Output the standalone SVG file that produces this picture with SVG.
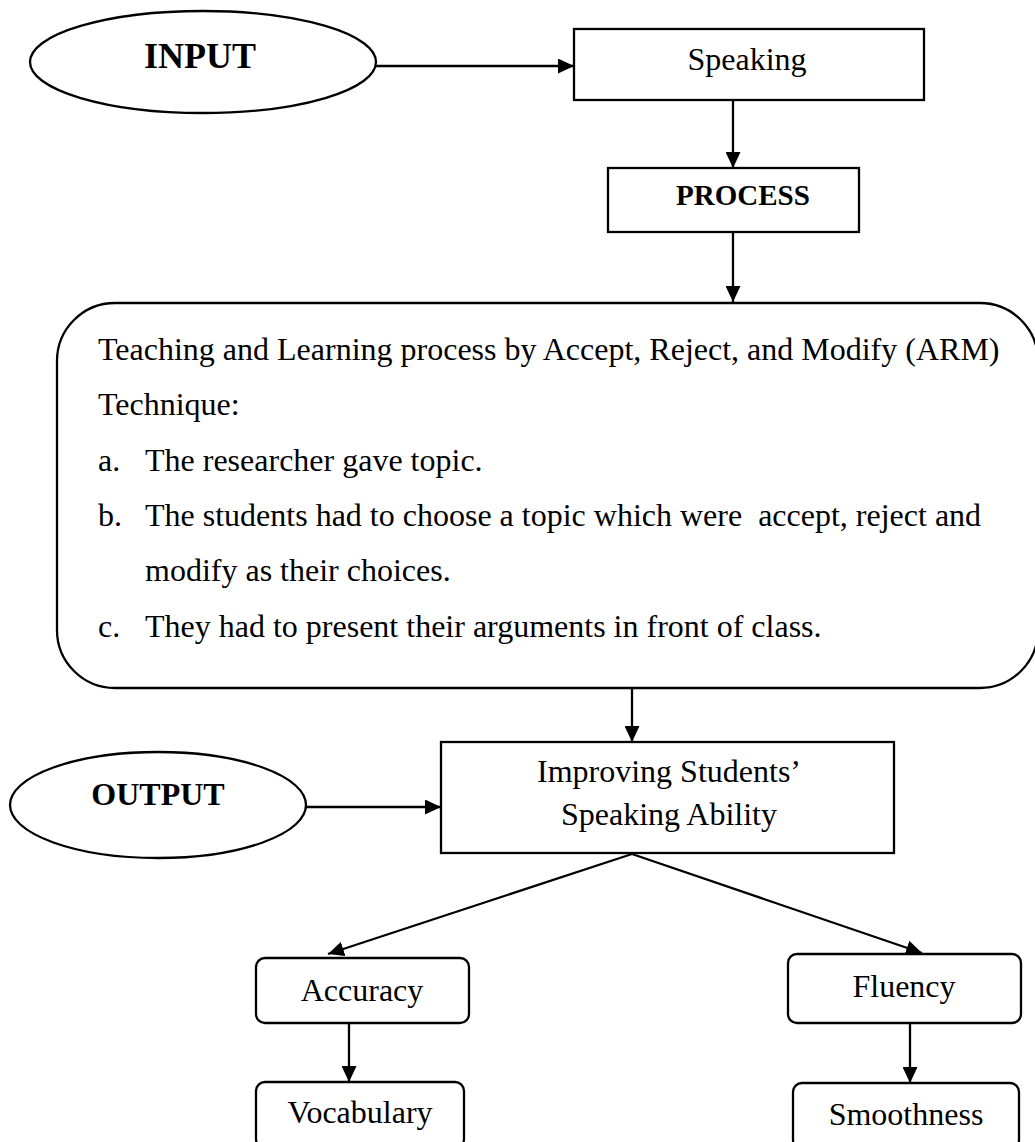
<svg xmlns="http://www.w3.org/2000/svg" width="1035" height="1142" viewBox="0 0 1035 1142">
<style>
.shape{fill:#fff;stroke:#000;stroke-width:2.3}
.t{font-family:"Liberation Serif","Times New Roman",serif;font-size:32px;fill:#000}
.b{font-weight:bold}
.m{text-anchor:middle}
.conn{stroke:#000;stroke-width:2.3;fill:none}
</style>
<defs>
<marker id="ah" markerWidth="16" markerHeight="15" refX="16" refY="7.5" orient="auto" markerUnits="userSpaceOnUse"><path d="M0,0 L16,7.5 L0,15 Z" fill="#000"/></marker>
</defs>
<rect width="1035" height="1142" fill="#fff"/>
<g id="input">
<ellipse class="shape" cx="203" cy="62" rx="173" ry="51"/>
<text class="t b m" x="200" y="68" style="font-size:36px">INPUT</text>
</g>
<g id="speaking">
<rect class="shape" x="574" y="29" width="350" height="71"/>
<text class="t m" x="747" y="70">Speaking</text>
</g>
<g id="process">
<rect class="shape" x="608" y="168" width="251" height="64"/>
<text class="t b m" x="743" y="205" style="font-size:29px">PROCESS</text>
</g>
<g id="arm">
<rect class="shape" x="57" y="303" width="981" height="385" rx="58" ry="58"/>
<text class="t" x="98" y="360">Teaching and Learning process by Accept, Reject, and Modify (ARM)</text>
<text class="t" x="98" y="415">Technique:</text>
<text class="t" x="98" y="471">a.</text>
<text class="t" x="145" y="471">The researcher gave topic.</text>
<text class="t" x="98" y="526">b.</text>
<text class="t" x="145" y="526" xml:space="preserve">The students had to choose a topic which were  accept, reject and</text>
<text class="t" x="145" y="581">modify as their choices.</text>
<text class="t" x="98" y="637">c.</text>
<text class="t" x="145" y="637">They had to present their arguments in front of class.</text>
</g>
<g id="output">
<ellipse class="shape" cx="158" cy="805" rx="148" ry="53"/>
<text class="t b m" x="158" y="805">OUTPUT</text>
</g>
<g id="improving">
<rect class="shape" x="441" y="742" width="453" height="111"/>
<text class="t m" x="669" y="782">Improving Students’</text>
<text class="t m" x="669" y="825">Speaking Ability</text>
</g>
<g id="accuracy">
<rect class="shape" x="256" y="958" width="213" height="65" rx="9" ry="9"/>
<text class="t m" x="362" y="1001">Accuracy</text>
</g>
<g id="fluency">
<rect class="shape" x="788" y="954" width="233" height="69" rx="9" ry="9"/>
<text class="t m" x="904" y="997">Fluency</text>
</g>
<g id="vocabulary">
<rect class="shape" x="256" y="1082" width="208" height="66" rx="9" ry="9"/>
<text class="t m" x="360" y="1123">Vocabulary</text>
</g>
<g id="smoothness">
<rect class="shape" x="793" y="1083" width="226" height="66" rx="9" ry="9"/>
<text class="t m" x="906" y="1125">Smoothness</text>
</g>
<g id="connectors">
<path class="conn" d="M376,66 L574,66" marker-end="url(#ah)"/>
<path class="conn" d="M733,100 L733,168" marker-end="url(#ah)"/>
<path class="conn" d="M733,232 L733,302" marker-end="url(#ah)"/>
<path class="conn" d="M632,688 L632,742" marker-end="url(#ah)"/>
<path class="conn" d="M306,807 L441,807" marker-end="url(#ah)"/>
<path class="conn" d="M632,854 L328,954" marker-end="url(#ah)"/>
<path class="conn" d="M632,854 L922,953" marker-end="url(#ah)"/>
<path class="conn" d="M349,1023 L349,1082" marker-end="url(#ah)"/>
<path class="conn" d="M910,1023 L910,1083" marker-end="url(#ah)"/>
</g>
</svg>
